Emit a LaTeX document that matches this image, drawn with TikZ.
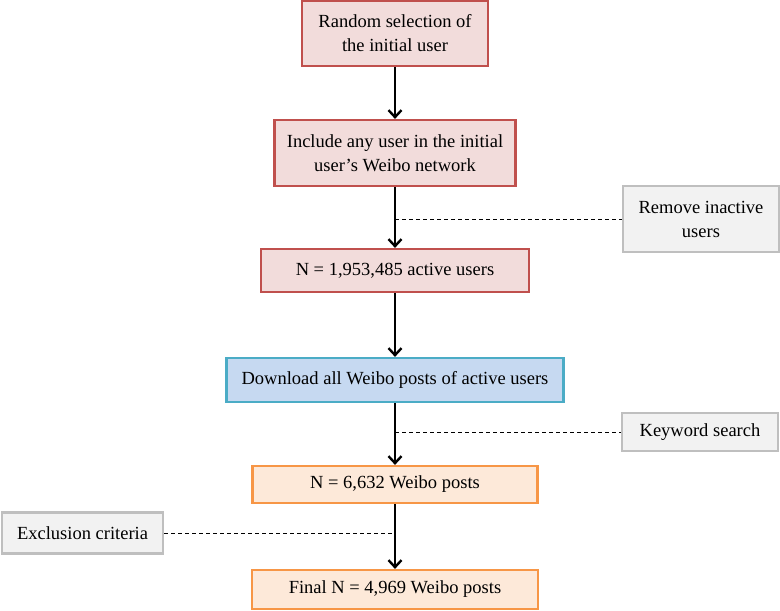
\documentclass[tikz,border=0pt]{standalone}
\usepackage{fontspec}
\setmainfont{Liberation Serif}
\usetikzlibrary{arrows.meta}
\definecolor{pinkfill}{HTML}{F2DCDB}
\definecolor{pinkdraw}{HTML}{C0504D}
\definecolor{bluefill}{HTML}{C6D9F1}
\definecolor{bluedraw}{HTML}{4BACC6}
\definecolor{orangefill}{HTML}{FDE9D9}
\definecolor{orangedraw}{HTML}{F79646}
\definecolor{grayfill}{HTML}{F2F2F2}
\definecolor{graydraw}{HTML}{BFBFBF}
\begin{document}
\begin{tikzpicture}[x=1pt,y=-1pt,
  every node/.style={font=\fontsize{18.5}{24}\selectfont, align=center, inner sep=0pt},
  boxbase/.style={line width=2.2pt},
  pinkbox/.style={boxbase, draw=pinkdraw, fill=pinkfill},
  bluebox/.style={boxbase, draw=bluedraw, fill=bluefill},
  orangebox/.style={boxbase, draw=orangedraw, fill=orangefill},
  graybox/.style={boxbase, draw=graydraw, fill=grayfill},
  flow/.style={line width=2.4pt, -{Straight Barb[length=7pt,width=13pt,line width=2.4pt]}},
  side/.style={line width=1pt, dash pattern=on 4pt off 3pt}
]
\useasboundingbox (0,0) rectangle (780,611);
\node[pinkbox, minimum width=186pt, minimum height=65pt] (b1) at (395,33.5) {Random selection of\\the initial user};
\node[pinkbox, minimum width=241pt, minimum height=66pt] (b2) at (395,153) {Include any user in the initial\\user’s Weibo network};
\node[pinkbox, minimum width=268pt, minimum height=43pt] (b3) at (395,270.5) {N = 1,953,485 active users};
\node[bluebox, minimum width=337pt, minimum height=44pt] (b4) at (395,380) {Download all Weibo posts of active users};
\node[orangebox, minimum width=285pt, minimum height=37pt] (b5) at (395,484.5) {N = 6,632 Weibo posts};
\node[orangebox, minimum width=286pt, minimum height=39pt] (b6) at (395,589.5) {Final N = 4,969 Weibo posts};
\node[graybox, minimum width=156pt, minimum height=66pt] (rm) at (701,219) {Remove inactive\\users};
\node[graybox, minimum width=156pt, minimum height=38pt] (kw) at (700,432) {Keyword search};
\node[graybox, minimum width=161pt, minimum height=41pt] (ex) at (82.5,533) {Exclusion criteria};
\draw[flow] (b1) -- (b2);
\draw[flow] (b2) -- (b3);
\draw[flow] (b3) -- (b4);
\draw[flow] (b4) -- (b5);
\draw[flow] (b5) -- (b6);
\coordinate (j1) at (b2.south |- rm.west);
\coordinate (j2) at (b4.south |- kw.west);
\coordinate (j3) at (b5.south |- ex.east);
\draw[side] (j1) -- (rm.west);
\draw[side] (j2) -- (kw.west);
\draw[side] (ex.east) -- (j3);
\end{tikzpicture}
\end{document}
